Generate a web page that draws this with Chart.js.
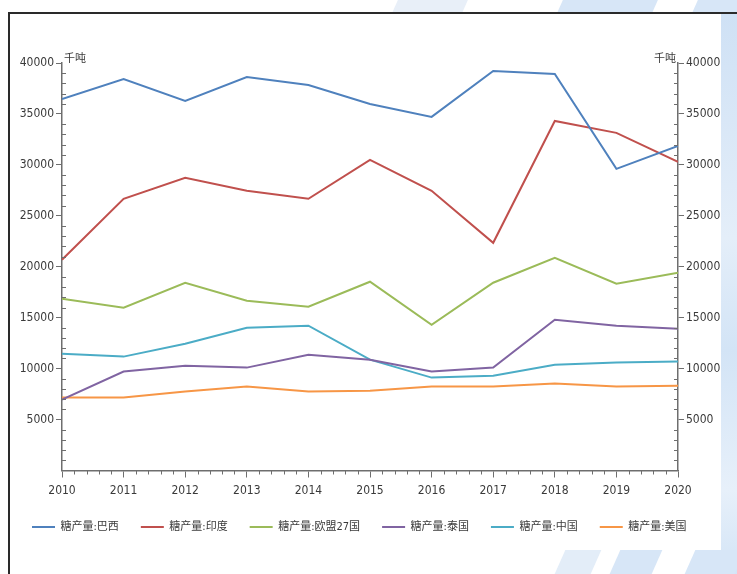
<!DOCTYPE html>
<html>
<head>
<meta charset="utf-8">
<script src="https://cdn.jsdelivr.net/npm/chart.js@4.4.1/dist/chart.umd.min.js"></script>
<style>
  html, body { margin: 0; padding: 0; background: #fff; }
  body { width: 737px; height: 574px; position: relative; overflow: hidden; }
  .wm { position: absolute; background: #d7e6f7; transform: skewX(-24deg); }
  #frame { position: absolute; left: 8px; top: 12px; width: 729px; height: 562px;
           border-left: 2px solid #2a2a2a; border-top: 2px solid #2a2a2a; }
  #card { position: absolute; left: 10px; top: 14px; width: 711px; height: 536px; background: #fff; }
</style>
</head>
<body>
<!-- faint watermark pieces peeking out round the card -->
<div class="wm" style="left:395px;top:0;width:70px;height:13px;background:#e8eff8;"></div>
<div class="wm" style="left:560px;top:0;width:95px;height:13px;"></div>
<div class="wm" style="left:695px;top:0;width:60px;height:13px;"></div>
<div class="wm" style="left:721px;top:14px;width:16px;height:560px;transform:none;background:linear-gradient(#cfe1f5,#e4eef9 40%,#d3e4f6 60%,#e7f0fa 85%,#d3e4f6);"></div>
<div class="wm" style="left:560px;top:550px;width:36px;height:24px;background:#e3edf8;"></div>
<div class="wm" style="left:615px;top:550px;width:42px;height:24px;"></div>
<div class="wm" style="left:690px;top:550px;width:50px;height:24px;"></div>
<div id="frame"></div>
<div id="card"><canvas id="chart" width="711" height="536"></canvas></div>

<script>
// years on the x axis
const years = [2010, 2011, 2012, 2013, 2014, 2015, 2016, 2017, 2018, 2019, 2020];

// sugar output, thousand tonnes
const brazil   = [36470, 38430, 36270, 38630, 37840, 35980, 34710, 39220, 38920, 29610, 31860];
const india    = [20690, 26670, 28730, 27450, 26670, 30490, 27450, 22350, 34310, 33140, 30290];
const eu27     = [16860, 15980, 18430, 16670, 16080, 18530, 14310, 18430, 20880, 18330, 19410];
const thailand = [6960, 9710, 10290, 10100, 11370, 10880, 9710, 10100, 14800, 14220, 13920];
const china    = [11470, 11180, 12450, 14020, 14220, 10880, 9120, 9310, 10390, 10590, 10690];
const usa      = [7160, 7160, 7750, 8240, 7750, 7840, 8240, 8240, 8530, 8240, 8330];

const seriesNames = ['糖产量:巴西', '糖产量:印度', '糖产量:欧盟27国', '糖产量:泰国', '糖产量:中国', '糖产量:美国'];
const seriesColors = ['#4F81BD', '#C0504D', '#9BBB59', '#8064A2', '#4BACC6', '#F79646'];
const seriesData = [brazil, india, eu27, thailand, china, usa];

const unitLabel = '千吨';
const axisColor = '#6e6e6e';
const textColor = '#3a3a3a';
const numFont = "'DejaVu Sans Condensed', 'Noto Sans CJK SC', sans-serif";

// small minor ticks + the unit text at the top of both axes
const axisExtras = {
    id: 'axisExtras',
    afterDraw(chart) {
        const ctx = chart.ctx;
        const area = chart.chartArea;
        const y = chart.scales.y;
        const x = chart.scales.x;
        ctx.save();
        ctx.strokeStyle = axisColor;
        ctx.lineWidth = 1;
        ctx.beginPath();
        for (let v = 1000; v < 40000; v += 1000) {
            if (v % 5000 === 0) continue;
            const py = Math.round(y.getPixelForValue(v)) + 0.5;
            ctx.moveTo(area.left, py); ctx.lineTo(area.left + 4, py);
            ctx.moveTo(area.right, py); ctx.lineTo(area.right - 4, py);
        }
        for (let k = 0; k < 50; k++) {
            if (k % 5 === 0) continue;
            const px = Math.round(x.getPixelForValue(2010 + k * 0.2)) + 0.5;
            ctx.moveTo(px, area.bottom); ctx.lineTo(px, area.bottom + 4);
        }
        ctx.stroke();

        ctx.fillStyle = textColor;
        ctx.font = "11px 'Noto Sans CJK SC', sans-serif";
        ctx.textBaseline = 'alphabetic';
        ctx.textAlign = 'left';
        ctx.fillText(unitLabel, area.left + 2, area.top - 1);
        ctx.textAlign = 'right';
        ctx.fillText(unitLabel, area.right - 2, area.top - 1);
        ctx.restore();
    }
};

const yTicks = {
    stepSize: 5000,
    autoSkip: false,
    color: textColor,
    padding: 2,
    font: { family: numFont, size: 12 },
    callback: v => (v === 0 ? '' : v)
};

const yGrid = {
    drawOnChartArea: false,
    tickLength: 6,
    tickColor: c => (c.tick && c.tick.value === 0 ? 'rgba(0,0,0,0)' : axisColor)
};

new Chart(document.getElementById('chart'), {
    type: 'line',
    data: {
        labels: years,
        datasets: seriesData.map((d, i) => ({
            label: seriesNames[i],
            data: d,
            borderColor: seriesColors[i],
            backgroundColor: seriesColors[i],
            borderWidth: 2,
            pointRadius: 0,
            tension: 0,
            yAxisID: 'y'
        }))
    },
    options: {
        responsive: false,
        animation: false,
        devicePixelRatio: 1,
        layout: { padding: { top: 49, left: 0, right: 0, bottom: 7.5 } },
        scales: {
            x: {
                type: 'linear',
                min: 2010,
                max: 2020,
                ticks: {
                    stepSize: 1,
                    autoSkip: false,
                    maxRotation: 0,
                    minRotation: 0,
                    padding: 6,
                    color: textColor,
                    font: { family: numFont, size: 12 },
                    callback: v => String(v)
                },
                grid: { drawOnChartArea: false, tickLength: 7, tickColor: axisColor },
                border: { color: axisColor, width: 1.5 },
                afterFit: s => { s.height = 29; }
            },
            y: {
                position: 'left',
                min: 0,
                max: 40000,
                ticks: yTicks,
                grid: yGrid,
                border: { color: axisColor, width: 1.5 },
                afterFit: s => { s.width = 52; }
            },
            y1: {
                position: 'right',
                min: 0,
                max: 40000,
                ticks: yTicks,
                grid: yGrid,
                border: { color: axisColor, width: 1.5 },
                afterFit: s => { s.width = 43; }
            }
        },
        plugins: {
            legend: {
                position: 'bottom',
                align: 'start',
                labels: {
                    usePointStyle: true,
                    pointStyle: 'line',
                    pointStyleWidth: 23,
                    padding: 22,
                    color: textColor,
                    font: { family: "'DejaVu Sans Condensed', 'Noto Sans CJK SC', sans-serif", size: 11 }
                }
            },
            tooltip: { enabled: false }
        }
    },
    plugins: [axisExtras]
});
</script>
</body>
</html>
